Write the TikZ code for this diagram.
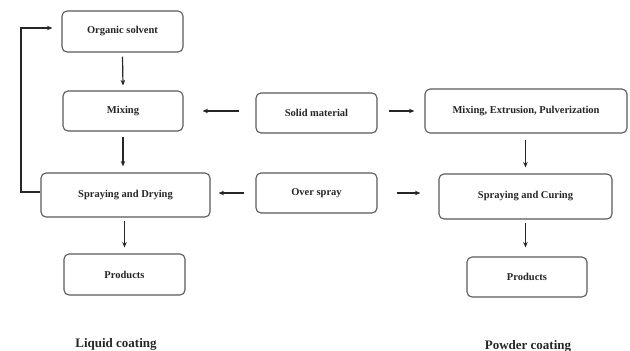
\documentclass[tikz,border=0pt]{standalone}
\usepackage{fontspec}
\setmainfont{Liberation Serif}
\usetikzlibrary{arrows.meta}
\tikzset{
  box/.style={draw=black!65, line width=1.1pt, rounded corners=5pt, inner sep=0pt,
    font=\bfseries\fontsize{10.5}{12}\selectfont, text=black!85},
  arr/.style={-{Stealth[length=5.5pt,width=4.5pt]}, line width=1.2pt, black!85},
  lbl/.style={font=\bfseries\fontsize{13}{15}\selectfont, text=black!85}
}
\begin{document}
\begin{tikzpicture}[x=1pt,y=-1pt]
\useasboundingbox (0,0) rectangle (630,351);
\node[box, minimum width=121pt, minimum height=41pt] (os) at (122.5,31.5) {Organic solvent};
\node[box, minimum width=120pt, minimum height=40pt] (mx) at (123,111) {Mixing};
\node[box, minimum width=121pt, minimum height=40pt] (sm) at (316.5,113) {Solid material};
\node[box, minimum width=202pt, minimum height=44pt] (mep) at (526,111) {Mixing, Extrusion, Pulverization};
\node[box, minimum width=169pt, minimum height=44pt] (sd) at (125.5,195) {Spraying and Drying};
\node[box, minimum width=121pt, minimum height=40pt] (ov) at (316.5,193) {Over spray};
\node[box, minimum width=173pt, minimum height=45pt] (sc) at (525.5,196.5) {Spraying and Curing};
\node[box, minimum width=121pt, minimum height=41pt] (pl) at (124.5,274.5) {Products};
\node[box, minimum width=120pt, minimum height=40pt] (pr) at (527,277) {Products};
\node[lbl] (lc) at (116,344) {Liquid coating};
\node[lbl] (pc) at (528,346) {Powder coating};

\draw[arr] ([yshift=-4pt]os.south) -- ([yshift=5pt]mx.north);
\draw[arr] ([yshift=-5pt]mx.south) -- ([yshift=6pt]sd.north -| mx.south);
\draw[arr] ([yshift=-3pt]sd.south -| pl.north) -- ([yshift=6pt]pl.north);
\draw[arr] ([xshift=-16pt]sm.west |- mx.east) -- ([xshift=19pt]mx.east);
\draw[arr] ([xshift=11pt]sm.east |- mep.west) -- ([xshift=-10pt]mep.west);
\draw[arr] ([xshift=-11pt]ov.west) -- ([xshift=8pt]sd.east |- ov.west);
\draw[arr] ([xshift=19pt]ov.east) -- ([xshift=-18pt]sc.west |- ov.east);
\draw[arr] ([yshift=-6pt]mep.south -| sc.north) -- ([yshift=6pt]sc.north);
\draw[arr] ([yshift=-3pt]sc.south) -- ([yshift=9pt]pr.north -| sc.south);
\coordinate (c1) at (21,192);
\coordinate (c2) at (21,28);
\draw[arr] (sd.west |- c1) -- (c1) -- (c2) -- ([xshift=-9pt]os.west |- c2);
\end{tikzpicture}
\end{document}
